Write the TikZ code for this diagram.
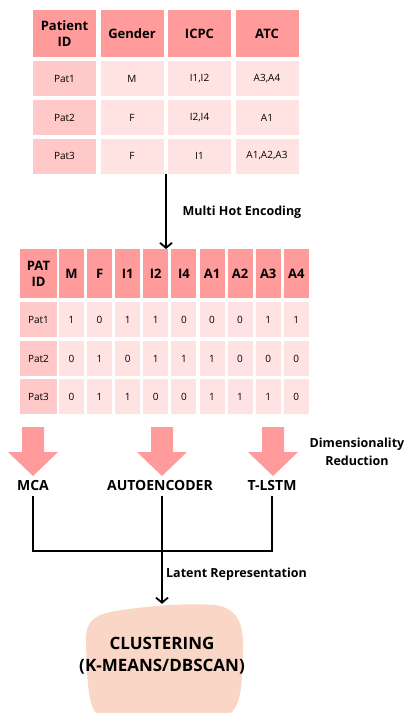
\documentclass[tikz,border=0pt]{standalone}
\usepackage{fontspec}
\setmainfont{Open Sans}
\usetikzlibrary{arrows.meta, positioning}
\definecolor{headpink}{HTML}{FF9B9B}
\definecolor{idpink}{HTML}{FFC9C9}
\definecolor{cellpink}{HTML}{FFE2E2}
\definecolor{peach}{HTML}{F9D6C6}
\tikzstyle{head} = [rectangle, fill=headpink, inner sep=0pt, align=center, font=\bfseries\fontsize{13}{16}\selectfont]
\tikzstyle{idcell} = [rectangle, fill=idpink, inner sep=0pt, font=\fontsize{10}{12}\selectfont]
\tikzstyle{cell} = [rectangle, fill=cellpink, inner sep=0pt, font=\fontsize{10}{12}\selectfont]
\tikzstyle{method} = [font=\bfseries\fontsize{14}{16}\selectfont]
\tikzstyle{note} = [font=\bfseries\fontsize{12.5}{17.5}\selectfont, align=center]
\tikzstyle{arrow} = [-{Straight Barb[length=5pt,width=12pt]}, line width=1.8pt]
\tikzstyle{line} = [line width=1.8pt]
\tikzstyle{fat} = [fill=headpink]

\begin{document}
\begin{tikzpicture}[x=1pt, y=-1pt]
\useasboundingbox (0,0) rectangle (404,713);

% patient table
\foreach \name/\x/\txt in {pid/64.5/{Patient\\ID}, gen/132/Gender, icpc/199.5/ICPC, atc/267/ATC}
  \node[head, minimum width=63pt, minimum height=47pt] (\name) at (\x,33.5) {\txt};
\foreach \r/\y/\g/\i/\a in {1/78.5/M/{I1,I2}/{A3,A4}, 2/117.5/F/{I2,I4}/A1, 3/156/F/I1/{A1,A2,A3}} {
  \node[idcell, minimum width=63pt, minimum height=35pt] (p\r) at (64.5,\y) {Pat\r};
  \node[cell, minimum width=63pt, minimum height=35pt] (g\r) at (132,\y) {\g};
  \node[cell, minimum width=63pt, minimum height=35pt] (i\r) at (199.5,\y) {\i};
  \node[cell, minimum width=63pt, minimum height=35pt] (a\r) at (267,\y) {\a};
}

\coordinate (encfrom) at (166,174);
\coordinate (encto) at (166,249);
\draw[arrow] (encfrom) -- (encto);
\node[note] (mhe) at (242,212) {Multi Hot Encoding};

% multi hot table
\node[head, minimum width=37pt, minimum height=49pt] (mid) at (38.5,273.5) {PAT\\ID};
\foreach \c [count=\k] in {M,F,I1,I2,I4,A1,A2,A3,A4}
  \node[head, minimum width=25pt, minimum height=49pt] (m\k) at ({71.5+28.1*(\k-1)},273.5) {\c};
\foreach \r/\y/\vals in {1/319.5/{1,0,1,1,0,0,0,1,1}, 2/358.5/{0,1,0,1,1,1,0,0,0}, 3/396.5/{0,1,1,0,0,1,1,1,0}} {
  \node[idcell, minimum width=37pt, minimum height=35pt] (q\r) at (38.5,\y) {Pat\r};
  \foreach \v [count=\k] in \vals
    \node[cell, minimum width=25pt, minimum height=35pt] (c\r-\k) at ({71.5+28.1*(\k-1)},\y) {\v};
}

% reduction arrows
\foreach \x in {33,162,273}
  \fill[fat] (\x-11,427) -- (\x+11,427) -- (\x+11,452) -- (\x+25,452) -- (\x,476)
    -- (\x-25,452) -- (\x-11,452) -- cycle;
\node[note] (dimred) at (357,452) {Dimensionality\\Reduction};

\node[method] (mca) at (33,485) {MCA};
\node[method] (ae) at (160,485) {AUTOENCODER};
\node[method] (tlstm) at (272,485) {T-LSTM};

% clustering blob
\fill[peach] (86,645) .. controls (85,625) and (90,617) .. (110,612)
  .. controls (150,605) and (190,603) .. (215,605)
  .. controls (238,608) and (244,625) .. (243,650)
  .. controls (242,675) and (243,700) .. (232,712)
  .. controls (220,722) and (105,722) .. (95,712)
  .. controls (87,700) and (87,670) .. (86,645) -- cycle;
\node[minimum width=154pt, minimum height=100pt, align=center,
  font=\bfseries\fontsize{17}{22}\selectfont] (clust) at (162,656) {CLUSTERING\\(K-MEANS/DBSCAN)};

\coordinate (join) at (162,551);
\draw[line, shorten <=2pt, shorten >=2pt] (mca) |- (join) -| (tlstm);
\draw[arrow, shorten <=2pt, shorten >=2pt] (ae.south -| clust.north) -- (clust.north);
\node[note] (latent) at (236.5,574) {Latent Representation};

\end{tikzpicture}
\end{document}
